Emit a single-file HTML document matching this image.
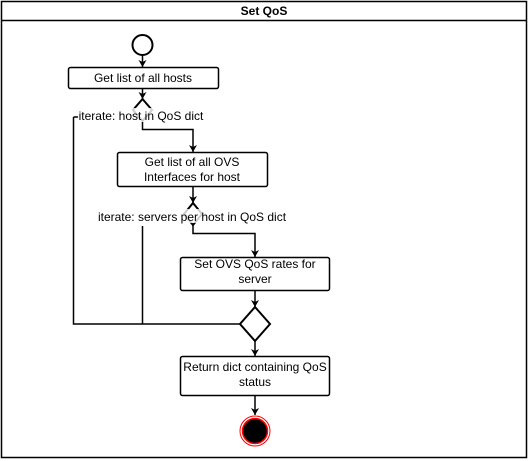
<!DOCTYPE html>
<html><head><style>
body{margin:0;background:#fff;}
svg{display:block;font-family:"Liberation Sans",sans-serif;}
</style></head><body>
<svg width="529" height="461" viewBox="0 0 529 461">
<defs><marker id="a" markerWidth="8" markerHeight="8" refX="7" refY="4" orient="auto" markerUnits="userSpaceOnUse"><path d="M0,0 L7,4 L0,8 L2,4 Z" fill="#000"/></marker></defs>
<rect x="1.5" y="1.5" width="525" height="456" fill="#fff" stroke="#000" stroke-width="1.5"/>
<line x1="1" y1="20.5" x2="527" y2="20.5" stroke="#000" stroke-width="1.5"/>
<text x="264" y="15" font-size="12" font-weight="bold" text-anchor="middle">Set QoS</text>
<g stroke="#000" stroke-width="1.5" fill="none">
<circle cx="142.5" cy="45" r="10" stroke-width="2"/>
<line x1="142.5" y1="55" x2="142.5" y2="67" marker-end="url(#a)"/>
<rect x="68.5" y="67.5" width="150" height="21" rx="2" fill="#fff"/>
<line x1="142.5" y1="89" x2="142.5" y2="99" marker-end="url(#a)"/>
<path d="M142.5,99 L152,110 L142.5,121 L133,110 Z" fill="#fff" stroke-width="2"/>
<path d="M142.5,121 V129.5 H193 V152" marker-end="url(#a)"/>
<rect x="117.5" y="152.5" width="150" height="34" rx="2" fill="#fff"/>
<line x1="193" y1="187" x2="193" y2="203" marker-end="url(#a)"/>
<path d="M193,203 L202,214 L193,225 L184,214 Z" fill="#fff" stroke-width="2"/>
<path d="M193,225 V233.5 H255 V257" marker-end="url(#a)"/>
<rect x="180.5" y="257.5" width="149" height="33" rx="2" fill="#fff"/>
<line x1="255" y1="291" x2="255" y2="307" marker-end="url(#a)"/>
<path d="M73.5,117 H78 M73.5,117 V324 H240 M142.5,226 V324"/>
<path d="M255,307 L270,324 L255,341 L240,324 Z" fill="#fff" stroke-width="2"/>
<line x1="255" y1="341" x2="255" y2="356" marker-end="url(#a)"/>
<rect x="180.5" y="356.5" width="149" height="39" rx="2" fill="#fff"/>
<line x1="255" y1="396" x2="255" y2="415" marker-end="url(#a)"/>
<circle cx="255" cy="431" r="15" stroke="#f00" stroke-width="1"/>
<circle cx="255" cy="431" r="12.5" stroke="#f00" fill="#000" stroke-width="1.5"/>
</g>
<g font-size="12" text-anchor="middle" fill="#000">
<text x="143" y="82">Get list of all hosts</text>
<rect x="78" y="108" width="127" height="14" fill="#fff" opacity="0.8"/>
<text x="141" y="120">iterate: host in QoS dict</text>
<text x="192" y="166">Get list of all OVS</text>
<text x="192" y="181">Interfaces for host</text>
<rect x="97" y="209" width="191" height="14" fill="#fff" opacity="0.8"/>
<text x="192" y="221">iterate: servers per host in QoS dict</text>
<text x="255" y="268">Set OVS QoS rates for</text>
<text x="255" y="283">server</text>
<text x="255" y="371">Return dict containing QoS</text>
<text x="255" y="386">status</text>
</g>
</svg>
</body></html>
